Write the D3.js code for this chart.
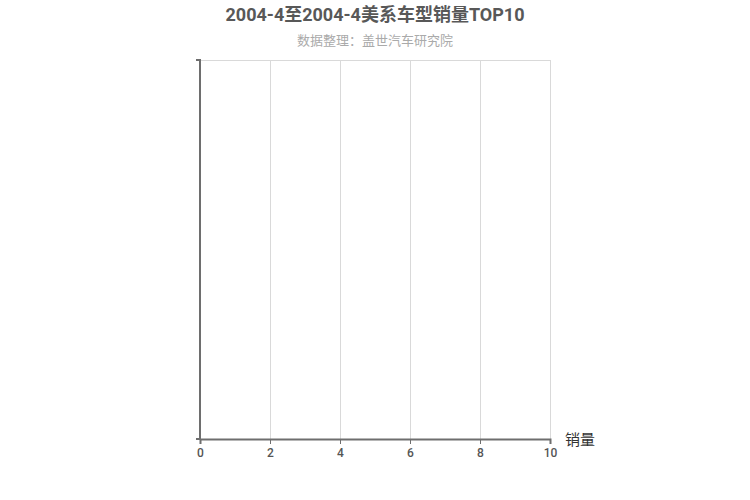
<!DOCTYPE html>
<html><head><meta charset="utf-8">
<script src="https://cdn.jsdelivr.net/npm/d3@7"></script>
<style>body{margin:0;background:#fff;}svg{display:block;font-family:Roboto,"Noto Sans CJK SC",sans-serif;}</style>
</head><body>
<svg id="c" width="750" height="500"></svg>
<script>
const title = "2004-4至2004-4美系车型销量TOP10";
const subtitle = "数据整理：盖世汽车研究院";
const categories = [];
const values = [];
const xTicks = [0, 2, 4, 6, 8, 10];
const xAxisName = "销量";

const svg = d3.select("#c");
const m = {left: 200, right: 200, top: 60, bottom: 61};
const W = 750, H = 500;
const x = d3.scaleLinear().domain([0, d3.max(values.concat([10]))]).range([m.left, W - m.right]);
const y = d3.scaleBand().domain(categories).range([H - m.bottom, m.top]).padding(0.3);

svg.append("text").attr("x", 375).attr("y", 21).attr("text-anchor", "middle")
  .attr("font-size", 18).attr("font-weight", "bold").attr("fill", "#585858").text(title);
svg.append("text").attr("x", 375).attr("y", 45).attr("text-anchor", "middle")
  .attr("font-size", 13).attr("fill", "#aaaaaa").text(subtitle);

// grid
const g = svg.append("g");
g.selectAll(".gv").data(xTicks.slice(1)).join("line")
  .attr("x1", d => x(d) + 0.5).attr("x2", d => x(d) + 0.5)
  .attr("y1", m.top).attr("y2", H - m.bottom)
  .attr("stroke", "#d9d9d9").attr("stroke-width", 1);
g.append("line").attr("x1", m.left).attr("x2", W - m.right + 0.5)
  .attr("y1", m.top + 0.5).attr("y2", m.top + 0.5)
  .attr("stroke", "#d9d9d9");

// bars
svg.append("g").selectAll("rect").data(values).join("rect")
  .attr("x", x(0)).attr("y", (d, i) => y(categories[i]))
  .attr("width", d => x(d) - x(0)).attr("height", y.bandwidth()).attr("fill", "#5470c6");

// x axis
const xa = svg.append("g").attr("transform", `translate(0,${H - m.bottom})`)
  .call(d3.axisBottom(x).tickValues(xTicks).tickSize(5).tickPadding(4));
xa.select(".domain").attr("stroke", "#6e6e6e").attr("stroke-width", 2);
xa.selectAll(".tick line").attr("stroke", "#6e6e6e");
xa.selectAll("text").attr("fill", "#555").attr("font-size", 12).attr("font-weight", 500).attr("font-family", "Roboto");
svg.append("text").attr("x", W - m.right + 15).attr("y", H - m.bottom + 6)
  .attr("font-size", 15).attr("fill", "#333").text(xAxisName);

// y axis
const ya = svg.append("g").attr("transform", `translate(${m.left},0)`)
  .call(d3.axisLeft(y).tickSize(4));
ya.select(".domain").attr("stroke", "#6e6e6e").attr("stroke-width", 2)
  .attr("d", `M-4,${m.top}H0V${H - m.bottom}H-4`);
</script>
</body></html>
